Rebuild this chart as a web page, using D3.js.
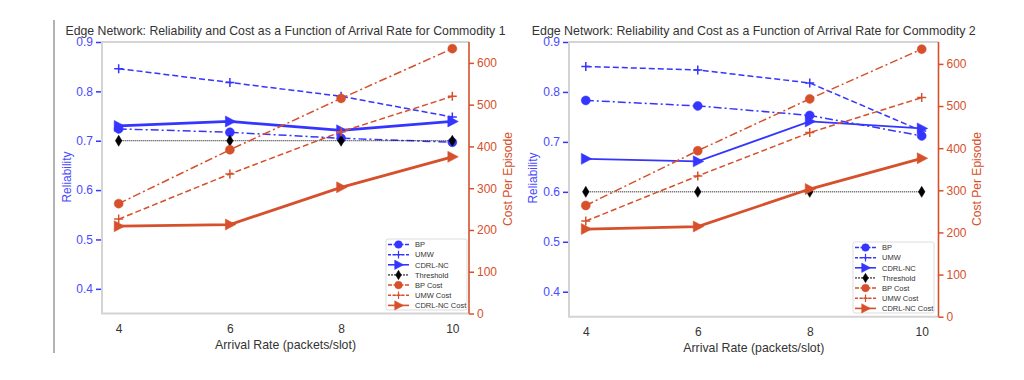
<!DOCTYPE html>
<html><head><meta charset="utf-8">
<script src="https://cdn.jsdelivr.net/npm/d3@7"></script>
<style>body{margin:0;background:#fff}svg{display:block}text{font-family:"Liberation Sans",Arial,Helvetica,sans-serif}</style>
</head><body><svg id="chart" width="1024" height="380"></svg>
<script>
const arrivalRates = [4, 6, 8, 10];
const xTicks = [4, 6, 8, 10];
const reliabilityTicks = [0.4, 0.5, 0.6, 0.7, 0.8, 0.9];
const costTicks = [0, 100, 200, 300, 400, 500, 600];
const titles = [
  "Edge Network: Reliability and Cost as a Function of Arrival Rate for Commodity 1",
  "Edge Network: Reliability and Cost as a Function of Arrival Rate for Commodity 2"
];
const legendLabels = ["BP", "UMW", "CDRL-NC", "Threshold", "BP Cost", "UMW Cost", "CDRL-NC Cost"];

// Commodity 1
const c1BP = [0.724, 0.717, 0.705, 0.697];
const c1UMW = [0.846, 0.818, 0.790, 0.748];
const c1CDRL = [0.730, 0.739, 0.721, 0.739];
const c1Threshold = [0.7, 0.7, 0.7, 0.7];
const c1BPCost = [263, 392, 515, 634];
const c1UMWCost = [226, 334, 435, 520];
const c1CDRLCost = [209, 213, 302, 375];

// Commodity 2
const c2BP = [0.783, 0.772, 0.753, 0.712];
const c2UMW = [0.851, 0.844, 0.818, 0.722];
const c2CDRL = [0.666, 0.661, 0.741, 0.727];
const c2Threshold = [0.6, 0.6, 0.6, 0.6];
const c2BPCost = [264, 394, 517, 635];
const c2UMWCost = [227, 334, 437, 520];
const c2CDRLCost = [208, 214, 303, 376];

const BLUE = "#3535ff", BLUE_T = "#4a4aff", ORANGE = "#d6502b", GRAY = "#333";
const svg = d3.select("#chart");

// left border line
svg.append("line").attr("x1", 54).attr("x2", 54).attr("y1", 20).attr("y2", 353)
  .attr("stroke", "#666").attr("stroke-width", 1);

function markerPath(type, s) {
  if (type === "circle") return d3.symbol(d3.symbolCircle, s * s * 3.1416 / 4)();
  if (type === "plus") return `M${-s/2},0H${s/2}M0,${-s/2}V${s/2}`;
  if (type === "tri") return `M${-s*0.45},${-s*0.55}L${s*0.6},0L${-s*0.45},${s*0.55}Z`;
  if (type === "diamond") return `M0,${-s*0.5}L${s*0.3},0L0,${s*0.5}L${-s*0.3},0Z`;
}

function drawChart(cfg) {
  const g = svg.append("g");
  const x = d3.scaleLinear().domain([3.7, 10.3]).range([cfg.left, cfg.right]);
  const yL = d3.scaleLinear().domain([0.35, 0.9]).range([cfg.bottom, cfg.top]);
  const yR = d3.scaleLinear().domain([0, cfg.costMax]).range([cfg.bottom, cfg.top]);

  // frame
  g.append("path").attr("d", `M${cfg.right},${cfg.top}H${cfg.left}V${cfg.bottom}H${cfg.right}`)
    .attr("fill", "none").attr("stroke", "#d4d4d4").attr("stroke-width", 2);
  g.append("line").attr("x1", cfg.right).attr("x2", cfg.right).attr("y1", cfg.top).attr("y2", cfg.bottom)
    .attr("stroke", ORANGE).attr("stroke-width", 1.6);

  // axes
  const axL = g.append("g").attr("transform", `translate(${cfg.left - 1},0)`)
    .call(d3.axisLeft(yL).tickValues(reliabilityTicks).tickFormat(d3.format(".1f")).tickSize(5).tickPadding(3));
  axL.select(".domain").remove();
  axL.selectAll("line").attr("stroke", BLUE).attr("stroke-width", 1.5);
  axL.selectAll("text").attr("fill", BLUE_T).attr("font-size", 12);

  const axR = g.append("g").attr("transform", `translate(${cfg.right},0)`)
    .call(d3.axisRight(yR).tickValues(costTicks).tickSize(5).tickPadding(3));
  axR.select(".domain").remove();
  axR.selectAll("line").attr("stroke", ORANGE).attr("stroke-width", 1.5);
  axR.selectAll("text").attr("fill", ORANGE).attr("font-size", 12);

  const axB = g.append("g").attr("transform", `translate(0,${cfg.bottom})`)
    .call(d3.axisBottom(x).tickValues(xTicks).tickFormat(d3.format("d")).tickSize(0).tickPadding(11));
  axB.select(".domain").remove();
  axB.selectAll("text").attr("fill", GRAY).attr("font-size", 12);

  // labels
  g.append("text").attr("x", (cfg.left + cfg.right) / 2 + cfg.titleDx).attr("y", cfg.top - 7)
    .attr("text-anchor", "middle").attr("font-size", 13.5).attr("fill", GRAY)
    .attr("textLength", cfg.titleLen).attr("lengthAdjust", "spacingAndGlyphs").text(cfg.title);
  g.append("text").attr("x", (cfg.left + cfg.right) / 2).attr("y", cfg.bottom + 35)
    .attr("text-anchor", "middle").attr("font-size", 13.5).attr("fill", GRAY)
    .attr("textLength", 141).attr("lengthAdjust", "spacingAndGlyphs").text("Arrival Rate (packets/slot)");
  g.append("text").attr("transform", `translate(${cfg.relLabelX},${cfg.relLabelY}) rotate(-90)`)
    .attr("text-anchor", "middle").attr("font-size", 12.5).attr("fill", BLUE_T)
    .attr("textLength", 51).attr("lengthAdjust", "spacingAndGlyphs").text("Reliability");
  g.append("text").attr("transform", `translate(${cfg.costLabelX},${cfg.costLabelY}) rotate(-90)`)
    .attr("text-anchor", "middle").attr("font-size", 13).attr("fill", ORANGE)
    .attr("textLength", 94).attr("lengthAdjust", "spacingAndGlyphs").text("Cost Per Episode");

  const series = [
    {vals: cfg.bp, y: yL, color: BLUE, dash: "8,3,2,3", w: 1.5, m: "circle", ms: 9},
    {vals: cfg.umw, y: yL, color: BLUE, dash: "6,3", w: 1.5, m: "plus", ms: 9},
    {vals: cfg.cdrl, y: yL, color: BLUE, dash: null, w: cfg.cdrlW, m: "tri", ms: 10},
    {vals: cfg.thr, y: yL, color: "#000", dash: "1,1", w: 1, m: "diamond", ms: 11},
    {vals: cfg.bpCost, y: yR, color: ORANGE, dash: "8,3,2,3", w: 1.5, m: "circle", ms: 9},
    {vals: cfg.umwCost, y: yR, color: ORANGE, dash: "6,3", w: 1.5, m: "plus", ms: 9},
    {vals: cfg.cdrlCost, y: yR, color: ORANGE, dash: null, w: 2.8, m: "tri", ms: 10}
  ];
  series.forEach(s => {
    const line = d3.line().x((d, i) => x(arrivalRates[i])).y(d => s.y(d));
    g.append("path").attr("d", line(s.vals)).attr("fill", "none").attr("stroke", s.color)
      .attr("stroke-width", s.w).attr("stroke-dasharray", s.dash);
    g.selectAll(null).data(s.vals).enter().append("path")
      .attr("transform", (d, i) => `translate(${x(arrivalRates[i])},${s.y(d)})`)
      .attr("d", markerPath(s.m, s.ms))
      .attr("fill", s.m === "plus" ? "none" : s.color).attr("stroke", s.color).attr("stroke-width", s.m === "plus" ? 1.5 : 0.5);
  });

  // legend
  const lg = g.append("g").attr("transform", `translate(${cfg.legX},${cfg.legY})`);
  lg.append("rect").attr("width", 81).attr("height", 71).attr("rx", 2).attr("fill", "#fff")
    .attr("fill-opacity", 0.85).attr("stroke", "#ddd").attr("stroke-width", 1);
  series.forEach((s, i) => {
    const yy = 5.5 + i * 10.15;
    lg.append("line").attr("x1", 2).attr("x2", 23).attr("y1", yy).attr("y2", yy)
      .attr("stroke", s.color).attr("stroke-width", Math.min(s.w, 1.6))
      .attr("stroke-dasharray", s.dash ? (s.dash === "1,1" ? "2,1" : (s.dash.length > 4 ? "4,1.5,1.5,1.5" : "3,1.5")) : null);
    lg.append("path").attr("transform", `translate(12.5,${yy})`).attr("d", markerPath(s.m, s.ms * 0.85))
      .attr("fill", s.m === "plus" ? "none" : s.color).attr("stroke", s.color).attr("stroke-width", s.m === "plus" ? 1.2 : 0.5);
    lg.append("text").attr("x", 29).attr("y", yy + 2.7).attr("font-size", 7.5).attr("fill", GRAY).text(legendLabels[i]);
  });
}

drawChart({
  left: 102, right: 469, top: 42, bottom: 313.5, costMax: 650,
  title: titles[0], titleLen: 440, titleDx: 0,
  relLabelX: 71, relLabelY: 177, costLabelX: 512, costLabelY: 179,
  bp: c1BP, umw: c1UMW, cdrl: c1CDRL, thr: c1Threshold,
  bpCost: c1BPCost, umwCost: c1UMWCost, cdrlCost: c1CDRLCost, cdrlW: 2.8,
  legX: 386, legY: 239
});
drawChart({
  left: 569, right: 938.5, top: 42, bottom: 316.7, costMax: 652,
  title: titles[1], titleLen: 444, titleDx: 0,
  relLabelX: 537, relLabelY: 178, costLabelX: 981, costLabelY: 179,
  bp: c2BP, umw: c2UMW, cdrl: c2CDRL, thr: c2Threshold,
  bpCost: c2BPCost, umwCost: c2UMWCost, cdrlCost: c2CDRLCost, cdrlW: 1.8,
  legX: 853, legY: 242
});
</script></body></html>
